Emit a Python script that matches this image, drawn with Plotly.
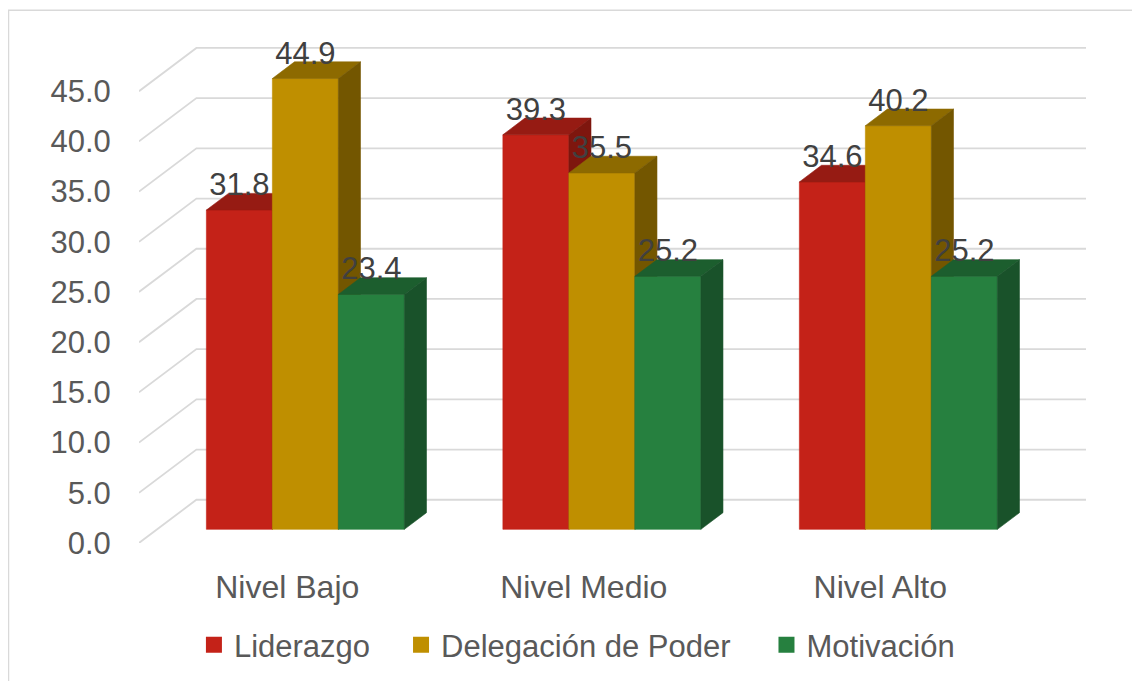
import plotly.graph_objects as go

# ---- data ----
categories = ["Nivel Bajo", "Nivel Medio", "Nivel Alto"]
series_names = ["Liderazgo", "Delegación de Poder", "Motivación"]
liderazgo = [31.8, 39.3, 34.6]
delegacion = [44.9, 35.5, 40.2]
motivacion = [23.4, 25.2, 25.2]
y_ticks = [0, 5, 10, 15, 20, 25, 30, 35, 40, 45]

series_values = [liderazgo, delegacion, motivacion]

# ---- styles ----
front_colors = ["#C42218", "#BF8F00", "#26803F"]
top_colors = ["#961B13", "#8D6A00", "#1C5E2E"]
side_colors = ["#7E160E", "#735600", "#19522A"]
grid_color = "#D9D9D9"
font_family = "Liberation Sans, Arial, sans-serif"

X_MIN, X_MAX = -0.5, 2.694
Y_MIN, Y_MAX = 0.0, 50.0
DX, DY = 0.1936, 4.31          # full floor depth offset (x units, y units)
F0, FB = 0.316, 0.385          # bar front depth fraction, bar depth fraction
BW = 0.2226                    # bar width in category units
LABEL_OFF = 0.6

ox0, oy0 = F0 * DX, F0 * DY
bdx, bdy = FB * DX, FB * DY

fig = go.Figure()

# ---- walls: gridlines ----
gx, gy = [], []
for v in y_ticks:
    gx += [X_MIN, X_MIN + DX, X_MAX, None]
    gy += [v, v + DY, v + DY, None]
fig.add_trace(go.Scatter(x=gx, y=gy, mode="lines", line=dict(color=grid_color, width=1.8),
                         hoverinfo="skip", showlegend=False))

# ---- 3D bars ----
lab_x, lab_y, lab_t = [], [], []
for k in range(len(categories)):
    for i, vals in enumerate(series_values):
        v = vals[k]
        L = k + ox0 + (i - 1.5) * BW
        R = L + BW
        faces = [
            ([L, R, R, L, L], [oy0, oy0, oy0 + v, oy0 + v, oy0], front_colors[i]),
            ([L, R, R + bdx, L + bdx, L], [oy0 + v, oy0 + v, oy0 + v + bdy, oy0 + v + bdy, oy0 + v], top_colors[i]),
            ([R, R + bdx, R + bdx, R, R], [oy0, oy0 + bdy, oy0 + v + bdy, oy0 + v, oy0], side_colors[i]),
        ]
        for fx, fy, c in faces:
            fig.add_trace(go.Scatter(x=fx, y=fy, mode="lines", fill="toself", fillcolor=c,
                                     line=dict(color=c, width=0.6), hoverinfo="skip", showlegend=False))
        lab_x.append((L + R) / 2)
        lab_y.append(oy0 + v + bdy + LABEL_OFF)
        lab_t.append(f"{v:.1f}")

fig.add_trace(go.Scatter(x=lab_x, y=lab_y, text=lab_t, mode="text", textposition="middle center",
                         textfont=dict(family=font_family, size=31, color="#404040"),
                         cliponaxis=False, hoverinfo="skip", showlegend=False))

# ---- legend entries ----
legend_ids = ["legend", "legend2", "legend3"]
legend_x = [0.058, 0.2767, 0.6626]
for i, name in enumerate(series_names):
    fig.add_trace(go.Scatter(x=[None], y=[None], mode="markers", name=name,
                             marker=dict(symbol="square", size=16, color=front_colors[i]),
                             legend=legend_ids[i], showlegend=True))

leg_common = dict(orientation="h", y=-0.2036, yanchor="middle", xanchor="left",
                  font=dict(family=font_family, size=31, color="#595959"),
                  bgcolor="rgba(0,0,0,0)", itemsizing="trace")
fig.update_layout(
    legend=dict(x=legend_x[0], **leg_common),
    legend2=dict(x=legend_x[1], **leg_common),
    legend3=dict(x=legend_x[2], **leg_common),
)

fig.update_layout(
    width=1140, height=681,
    margin=dict(l=131, r=62, t=33, b=146),
    paper_bgcolor="white", plot_bgcolor="white",
    xaxis=dict(range=[X_MIN, X_MAX], tickvals=list(range(len(categories))), ticktext=categories,
               showgrid=False, zeroline=False, showline=False, ticks="outside", ticklen=16,
               tickcolor="rgba(0,0,0,0)", tickfont=dict(family=font_family, size=32, color="#595959"),
               fixedrange=True),
    yaxis=dict(range=[Y_MIN, Y_MAX], tickvals=y_ticks, ticktext=[f"{t:.1f}" for t in y_ticks],
               showgrid=False, zeroline=False, showline=False, ticks="outside", ticklen=21,
               tickcolor="rgba(0,0,0,0)", tickfont=dict(family=font_family, size=31, color="#595959"),
               fixedrange=True),
    shapes=[dict(type="rect", xref="paper", yref="paper", x0=-0.1378, x1=1.1, y0=-0.4, y1=1.0614,
                 line=dict(color=grid_color, width=1.5), fillcolor="rgba(0,0,0,0)", layer="below")],
)

fig.write_html("out.html")
